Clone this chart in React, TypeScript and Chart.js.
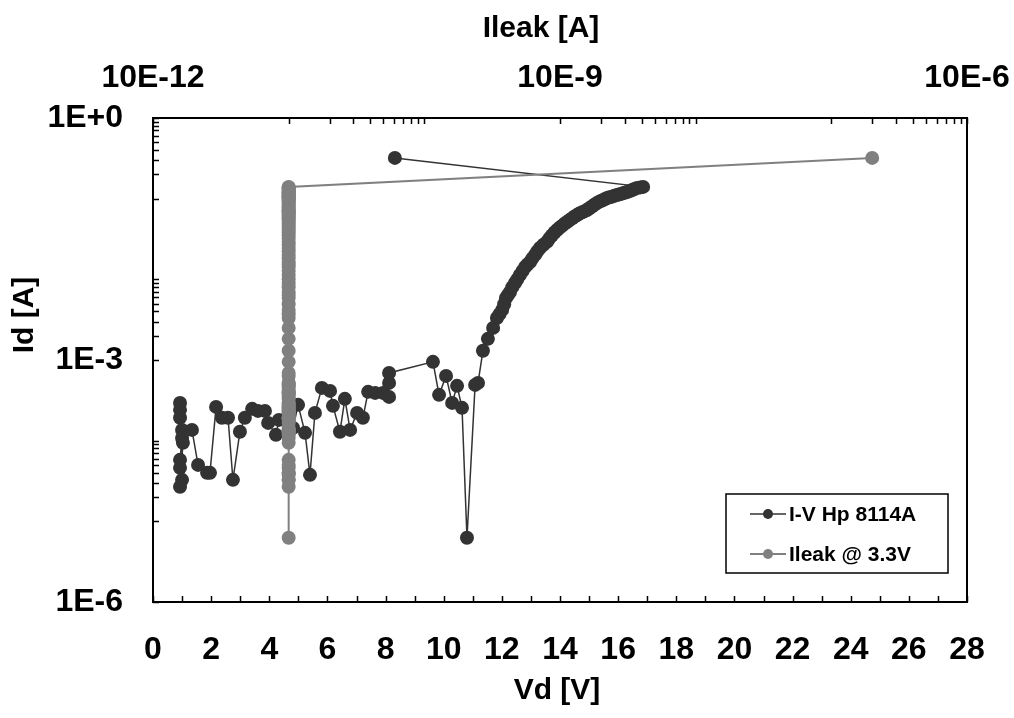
import React, { useEffect, useRef } from 'react';
import { Chart, registerables } from 'chart.js';

Chart.register(...registerables);

// ---- data ----
const vdValues = [
  0.93, 0.93, 0.93, 1.0, 1.0, 0.93, 0.93, 1.0, 0.93, 1.03,
  1.34, 1.55, 1.86, 1.96, 2.17, 2.37, 2.58, 2.75, 2.99, 3.16,
  3.41, 3.61, 3.85, 3.96, 4.23, 4.33, 4.82, 4.99, 5.23, 5.4,
  5.57, 5.81, 6.09, 6.19, 6.43, 6.6, 6.78, 7.02, 7.22, 7.4,
  7.64, 7.91, 8.12, 8.12, 8.12, 9.63, 9.84, 10.08, 10.29, 10.46,
  10.63, 10.8, 11.08, 11.18, 11.35, 11.52, 11.7, 11.83, 11.92, 12.01,
  12.08, 12.14, 12.21, 12.28, 12.36, 12.45, 12.53, 12.62, 12.71, 12.8,
  12.88, 12.97, 13.05, 13.14, 13.22, 13.31, 13.43, 13.55, 13.63, 13.72,
  13.81, 13.9, 13.98, 14.07, 14.15, 14.24, 14.33, 14.42, 14.5, 14.59,
  14.67, 14.76, 14.85, 14.93, 15.01, 15.1, 15.18, 15.27, 15.36, 15.45,
  15.53, 15.62, 15.7, 15.79, 15.87, 15.96, 16.05, 16.14, 16.22, 16.31,
  16.4, 16.48, 16.56, 16.65, 16.76, 16.86, 8.32,
];

const idValues = [
  2.94e-4, 2.41e-4, 1.92e-4, 1.36e-4, 1.08e-4, 5.78e-5, 4.6e-5, 3.27e-5, 2.68e-5, 9.39e-5,
  1.36e-4, 5.01e-5, 3.99e-5, 3.99e-5, 2.62e-4, 1.92e-4, 1.92e-4, 3.27e-5, 1.29e-4, 1.92e-4,
  2.48e-4, 2.34e-4, 2.34e-4, 1.66e-4, 1.18e-4, 1.81e-4, 1.44e-4, 2.78e-4, 1.25e-4, 3.77e-5,
  2.21e-4, 4.51e-4, 4.14e-4, 2.7e-4, 1.29e-4, 3.3e-4, 1.36e-4, 2.21e-4, 1.92e-4, 4.03e-4,
  3.91e-4, 3.91e-4, 3.49e-4, 5.2e-4, 6.92e-4, 9.48e-4, 3.7e-4, 6.35e-4, 2.94e-4, 4.78e-4,
  2.55e-4, 6.25e-6, 4.91e-4, 5.2e-4, 1.3e-3, 1.83e-3, 2.5e-3, 3.32e-3, 3.7e-3, 4.18e-3,
  4.9e-3, 5.88e-3, 6.4e-3, 6.98e-3, 8.0e-3, 9.02e-3, 1.0e-2, 1.13e-2, 1.27e-2, 1.42e-2,
  1.53e-2, 1.64e-2, 1.82e-2, 2.01e-2, 2.22e-2, 2.45e-2, 2.68e-2, 2.91e-2, 3.2e-2, 3.5e-2,
  3.8e-2, 4.09e-2, 4.35e-2, 4.6e-2, 4.87e-2, 5.14e-2, 5.42e-2, 5.7e-2, 6.0e-2, 6.28e-2,
  6.55e-2, 6.8e-2, 7.0e-2, 7.24e-2, 7.6e-2, 8.0e-2, 8.4e-2, 8.85e-2, 9.2e-2, 9.5e-2,
  9.85e-2, 1.02e-1, 1.04e-1, 1.06e-1, 1.085e-1, 1.11e-1, 1.135e-1, 1.16e-1, 1.185e-1, 1.21e-1,
  1.245e-1, 1.28e-1, 1.32e-1, 1.36e-1, 1.38e-1, 1.4e-1, 3.2e-1,
];

const ileakValues = [
  1e-11, 1e-11, 1e-11, 1e-11, 1e-11, 1e-11, 1e-11, 1e-11, 1e-11, 1e-11,
  1e-11, 1e-11, 1e-11, 1e-11, 1e-11, 1e-11, 1e-11, 1e-11, 1e-11, 1e-11,
  1e-11, 1e-11, 1e-11, 1e-11, 1e-11, 1e-11, 1e-11, 1e-11, 1e-11, 1e-11,
  1e-11, 1e-11, 1e-11, 1e-11, 1e-11, 1e-11, 1e-11, 1e-11, 1e-11, 1e-11,
  1e-11, 1e-11, 1e-11, 1e-11, 1e-11, 1e-11, 1e-11, 1e-11, 1e-11, 1e-11,
  1e-11, 1e-11, 1e-11, 1e-11, 1e-11, 1e-11, 1e-11, 1e-11, 1e-11, 1e-11,
  1e-11, 1e-11, 1e-11, 1e-11, 1e-11, 1e-11, 1e-11, 1e-11, 1e-11, 1e-11,
  1e-11, 1e-11, 1e-11, 1e-11, 1e-11, 1e-11, 1e-11, 1e-11, 1e-11, 1e-11,
  1e-11, 1e-11, 1e-11, 1e-11, 1e-11, 1e-11, 1e-11, 1e-11, 1e-11, 1e-11,
  1e-11, 1e-11, 1e-11, 1e-11, 1e-11, 1e-11, 1e-11, 1e-11, 1e-11, 1e-11,
  1e-11, 1e-11, 1e-11, 1e-11, 1e-11, 1e-11, 1e-11, 1e-11, 1e-11, 1e-11,
  1e-11, 1e-11, 1e-11, 1e-11, 1e-11, 1e-11, 2e-7,
];

const seriesLabels = ['I-V Hp 8114A', 'Ileak @ 3.3V'];

const vdTickValues = [0, 1, 2, 3, 4, 5, 6, 7, 8, 9, 10, 11, 12, 13, 14, 15, 16, 17, 18, 19, 20, 21, 22, 23, 24, 25, 26, 27, 28];
const vdTickLabels = ['0', '', '2', '', '4', '', '6', '', '8', '', '10', '', '12', '', '14', '', '16', '', '18', '', '20', '', '22', '', '24', '', '26', '', '28'];

const idTickValues = [
  1e-6, 1e-5, 2e-5, 3e-5, 4e-5, 5e-5, 6e-5, 7e-5, 8e-5, 9e-5, 1e-4,
  1e-3, 2e-3, 3e-3, 4e-3, 5e-3, 6e-3, 7e-3, 8e-3, 9e-3, 1e-2,
  1e-1, 2e-1, 3e-1, 4e-1, 5e-1, 6e-1, 7e-1, 8e-1, 9e-1, 1,
];
const idTickLabels = [
  '1E-6', '', '', '', '', '', '', '', '', '', '',
  '1E-3', '', '', '', '', '', '', '', '', '',
  '', '', '', '', '', '', '', '', '', '1E+0',
];

const ileakTickValues = [
  1e-12, 1e-11, 2e-11, 3e-11, 4e-11, 5e-11, 6e-11, 7e-11, 8e-11, 9e-11, 1e-10,
  1e-9, 2e-9, 3e-9, 4e-9, 5e-9, 6e-9, 7e-9, 8e-9, 9e-9, 1e-8,
  1e-7, 2e-7, 3e-7, 4e-7, 5e-7, 6e-7, 7e-7, 8e-7, 9e-7, 1e-6,
];
const ileakTickLabels = [
  '10E-12', '', '', '', '', '', '', '', '', '', '',
  '10E-9', '', '', '', '', '', '', '', '', '',
  '', '', '', '', '', '', '', '', '', '10E-6',
];

const xTitle = 'Vd [V]';
const yTitle = 'Id [A]';
const x2Title = 'Ileak [A]';

const DARK = '#333333';
const GRAY = '#808080';
const FONT = 'Liberation Sans';

const framePlugin = {
  id: 'frame',
  afterDraw(chart: any) {
    const { ctx, chartArea: a, scales } = chart;
    ctx.save();
    ctx.strokeStyle = '#000';
    ctx.lineWidth = 1.5;
    const tl = 6;
    ctx.beginPath();
    scales.x.ticks.forEach((t: any) => {
      const p = Math.round(scales.x.getPixelForValue(t.value)) + 0.5;
      ctx.moveTo(p, a.bottom);
      ctx.lineTo(p, a.bottom - tl);
    });
    scales.x2.ticks.forEach((t: any) => {
      const p = Math.round(scales.x2.getPixelForValue(t.value)) + 0.5;
      ctx.moveTo(p, a.top);
      ctx.lineTo(p, a.top + tl);
    });
    scales.y.ticks.forEach((t: any) => {
      const p = Math.round(scales.y.getPixelForValue(t.value)) + 0.5;
      ctx.moveTo(a.left, p);
      ctx.lineTo(a.left + tl, p);
    });
    ctx.stroke();
    ctx.lineWidth = 2;
    ctx.strokeRect(a.left, a.top, a.right - a.left, a.bottom - a.top);

    // axis titles
    ctx.fillStyle = '#000';
    ctx.font = `bold 30px "${FONT}"`;
    ctx.textAlign = 'center';
    ctx.textBaseline = 'middle';
    ctx.fillText(xTitle, (a.left + a.right) / 2 - 3, a.bottom + 89);
    ctx.fillText(x2Title, (a.left + a.right) / 2 - 19, a.top - 89);
    ctx.save();
    ctx.translate(25, a.top + 197);
    ctx.rotate(-Math.PI / 2);
    ctx.fillText(yTitle, 0, 0);
    ctx.restore();

    // legend
    const lx = a.right - 241;
    const ly = a.top + 376;
    const lw = 222;
    const lh = 79;
    ctx.fillStyle = '#fff';
    ctx.fillRect(lx, ly, lw, lh);
    ctx.lineWidth = 1.5;
    ctx.strokeStyle = '#000';
    ctx.strokeRect(lx, ly, lw, lh);
    const colors = [DARK, GRAY];
    const widths = [1.5, 2];
    seriesLabels.forEach((lab, i) => {
      const cy = ly + 20 + i * 40;
      ctx.strokeStyle = colors[i];
      ctx.lineWidth = widths[i];
      ctx.beginPath();
      ctx.moveTo(lx + 24, cy);
      ctx.lineTo(lx + 60, cy);
      ctx.stroke();
      ctx.fillStyle = colors[i];
      ctx.beginPath();
      ctx.arc(lx + 42, cy, 5, 0, Math.PI * 2);
      ctx.fill();
      ctx.fillStyle = '#000';
      ctx.font = `bold 21px "${FONT}"`;
      ctx.textAlign = 'left';
      ctx.textBaseline = 'middle';
      ctx.fillText(lab, lx + 63, cy + 1);
    });
    ctx.restore();
  },
};

export default function App() {
  const ref = useRef<HTMLCanvasElement>(null);
  useEffect(() => {
    const tickFont = { family: FONT, size: 32, weight: 'bold' as const };
    const noPadH = (s: any, h: number) => {
      s.height = h;
      s.paddingLeft = 0;
      s.paddingRight = 0;
    };
    const chart = new Chart(ref.current as HTMLCanvasElement, {
      type: 'scatter',
      data: {
        datasets: [
          {
            label: seriesLabels[0],
            data: vdValues.map((v, i) => ({ x: v, y: idValues[i] })),
            xAxisID: 'x',
            yAxisID: 'y',
            showLine: true,
            borderColor: DARK,
            backgroundColor: DARK,
            borderWidth: 1.5,
            pointRadius: 7,
            pointBorderWidth: 0,
            pointBackgroundColor: DARK,
            order: 1,
          },
          {
            label: seriesLabels[1],
            data: ileakValues.map((v, i) => ({ x: v, y: idValues[i] })),
            xAxisID: 'x2',
            yAxisID: 'y',
            showLine: true,
            borderColor: GRAY,
            backgroundColor: GRAY,
            borderWidth: 2,
            pointRadius: 7,
            pointBorderWidth: 0,
            pointBackgroundColor: GRAY,
            order: 0,
          },
        ],
      },
      options: {
        animation: false,
        responsive: false,
        devicePixelRatio: 1,
        layout: { padding: { left: 0, right: 47, top: 0, bottom: 0 } },
        plugins: { legend: { display: false }, tooltip: { enabled: false } },
        scales: {
          x: {
            type: 'linear',
            position: 'bottom',
            min: 0,
            max: 28,
            afterBuildTicks: (s: any) => {
              s.ticks = vdTickValues.map((v) => ({ value: v }));
            },
            afterFit: (s: any) => noPadH(s, 116),
            ticks: {
              autoSkip: false,
              maxRotation: 0,
              padding: 29,
              color: '#000',
              font: tickFont,
              callback: (_v: any, i: number) => vdTickLabels[i],
            },
            grid: { display: false, drawTicks: false },
            border: { display: false },
          },
          x2: {
            type: 'logarithmic',
            position: 'top',
            min: 1e-12,
            max: 1e-6,
            afterBuildTicks: (s: any) => {
              s.ticks = ileakTickValues.map((v) => ({ value: v }));
            },
            afterFit: (s: any) => noPadH(s, 118),
            ticks: {
              autoSkip: false,
              maxRotation: 0,
              padding: 21,
              color: '#000',
              font: tickFont,
              callback: (_v: any, i: number) => ileakTickLabels[i],
            },
            grid: { display: false, drawTicks: false },
            border: { display: false },
          },
          y: {
            type: 'logarithmic',
            position: 'left',
            min: 1e-6,
            max: 1,
            afterBuildTicks: (s: any) => {
              s.ticks = idTickValues.map((v) => ({ value: v }));
            },
            afterFit: (s: any) => {
              s.width = 153;
              s.paddingTop = 0;
              s.paddingBottom = 0;
            },
            ticks: {
              autoSkip: false,
              padding: 30,
              color: '#000',
              font: tickFont,
              callback: (_v: any, i: number) => idTickLabels[i],
            },
            grid: { display: false, drawTicks: false },
            border: { display: false },
          },
        },
      },
      plugins: [framePlugin],
    } as any);
    return () => chart.destroy();
  }, []);
  return (
    <div style={{ position: 'absolute', left: 0, top: 0, width: 1014, height: 718, background: '#fff' }}>
      <canvas ref={ref} width={1014} height={718} style={{ width: 1014, height: 718, display: 'block' }} />
    </div>
  );
}
